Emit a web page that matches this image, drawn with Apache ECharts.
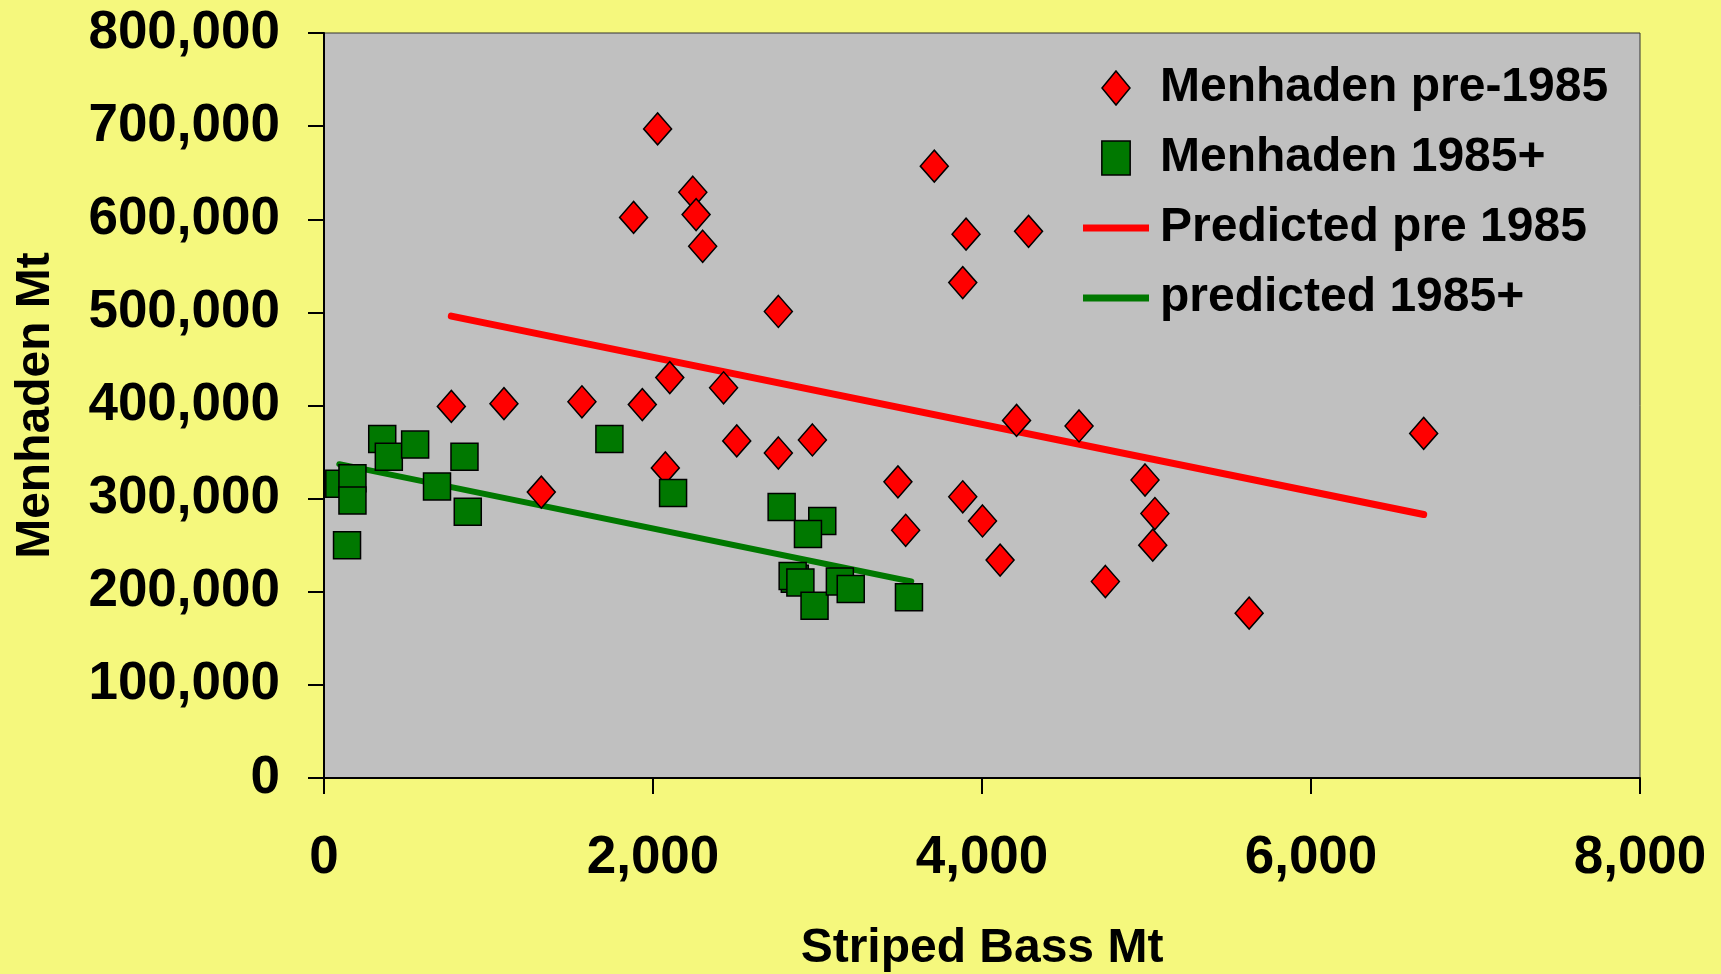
<!DOCTYPE html>
<html>
<head>
<meta charset="utf-8">
<script src="https://cdn.jsdelivr.net/npm/echarts@6/dist/echarts.min.js"></script>
<style>
html,body{margin:0;padding:0;background:#F5F87D;}
#chart{width:1721px;height:974px;}
</style>
</head>
<body>
<div id="chart"></div>
<script>
// Striped Bass (x) vs Menhaden (y)
const preX = [2028,1882,2242,2262,2302,2762,3710,3903,4283,3883,774,1094,1568,1935,2102,2429,1321,2075,2509,2762,2969,3489,3536,3883,4003,4110,4210,4590,4991,5051,5038,4750,5624,6685];
const preY = [697000,602000,629000,605000,571000,501000,657000,584000,587000,532000,399000,402000,404000,401000,430000,419000,307000,333000,362000,349000,363000,318000,266000,302000,276000,234000,384000,378000,320000,284000,250000,211000,177000,370000];
const postX = [93,173,173,140,354,394,554,687,854,874,1735,2122,2782,3029,2942,2862,2849,2896,2982,3136,3202,3556];
const postY = [316000,322000,298000,250000,364000,345000,358000,313000,345000,286000,364000,306000,291000,276000,262000,214000,217000,210000,185000,211000,203000,194000];
const predPreX = [774,6685];
const predPreY = [496000,283000];
const predPostX = [93,3570];
const predPostY = [337000,211000];
const xTicks = [0,2000,4000,6000,8000];
const yTicks = [0,100000,200000,300000,400000,500000,600000,700000,800000];
const names = ['Menhaden pre-1985','Menhaden 1985+','Predicted pre 1985','predicted 1985+'];

const zip = (a,b) => a.map((v,i)=>[v,b[i]]);
const fmt = v => v.toLocaleString('en-US');
const FONT = '"Liberation Sans", Arial, sans-serif';

const chart = echarts.init(document.getElementById('chart'));
chart.setOption({
  backgroundColor: '#F5F87D',
  animation: false,
  grid: {left: 324, right: 81, top: 33, bottom: 196, containLabel: false, outerBoundsMode: 'none',
         show: true, backgroundColor: '#C0C0C0', borderColor: '#333', borderWidth: 1},
  xAxis: {
    type: 'value', min: xTicks[0], max: xTicks[xTicks.length-1], interval: 2000,
    name: 'Striped Bass Mt', nameLocation: 'middle', nameGap: 147,
    nameTextStyle: {fontFamily: FONT, fontWeight: 'bold', fontSize: 48, color: '#000'},
    axisLine: {onZero: false, lineStyle: {color: '#000', width: 2}},
    axisTick: {show: true, inside: false, length: 16, lineStyle: {color: '#000', width: 2}},
    splitLine: {show: false},
    axisLabel: {margin: 54, formatter: fmt, fontFamily: FONT, fontWeight: 'bold', fontSize: 53, color: '#000'}
  },
  yAxis: {
    type: 'value', min: yTicks[0], max: yTicks[yTicks.length-1], interval: 100000,
    name: 'Menhaden Mt', nameLocation: 'middle', nameGap: 264,
    nameTextStyle: {fontFamily: FONT, fontWeight: 'bold', fontSize: 48, color: '#000'},
    axisLine: {onZero: false, lineStyle: {color: '#000', width: 2}},
    axisTick: {show: true, inside: false, length: 16, lineStyle: {color: '#000', width: 2}},
    splitLine: {show: false},
    axisLabel: {margin: 44, formatter: fmt, fontFamily: FONT, fontWeight: 'bold', fontSize: 53, color: '#000'}
  },
  legend: {
    orient: 'vertical', left: 1078, top: 59,
    itemWidth: 66, itemHeight: 34, itemGap: 22, symbolKeepAspect: true,
    data: [
      {name: names[0], icon: 'path://M0,-17L14,0L0,17L-14,0Z', itemStyle: {color: '#FF0000', borderColor: '#000', borderWidth: 1.5}},
      {name: names[1], icon: 'path://M0,0H25V30H0Z', itemStyle: {color: '#007800', borderColor: '#000', borderWidth: 1.5}},
      {name: names[2], icon: 'path://M0,0H66V7H0Z', itemStyle: {color: '#FF0000', borderWidth: 0}},
      {name: names[3], icon: 'path://M0,0H66V7H0Z', itemStyle: {color: '#007800', borderWidth: 0}}
    ],
    textStyle: {fontFamily: FONT, fontWeight: 'bold', fontSize: 48, color: '#000', padding: [0,0,0,6]}
  },
  series: [
    {name: names[0], type: 'scatter', symbol: 'diamond', symbolSize: [28, 32], z: 5,
     itemStyle: {color: '#FF0000', borderColor: '#000', borderWidth: 1.5, opacity: 1},
     data: zip(preX, preY)},
    {name: names[1], type: 'scatter', symbol: 'rect', symbolSize: 27, z: 5,
     itemStyle: {color: '#007800', borderColor: '#000', borderWidth: 1.5, opacity: 1},
     data: zip(postX, postY)},
    {name: names[2], type: 'line', symbol: 'none', z: 3,
     lineStyle: {color: '#FF0000', width: 7, cap: 'round'},
     itemStyle: {color: '#FF0000'},
     data: zip(predPreX, predPreY)},
    {name: names[3], type: 'line', symbol: 'none', z: 3,
     lineStyle: {color: '#007800', width: 6, cap: 'round'},
     itemStyle: {color: '#007800'},
     data: zip(predPostX, predPostY)}
  ]
});
</script>
</body>
</html>
